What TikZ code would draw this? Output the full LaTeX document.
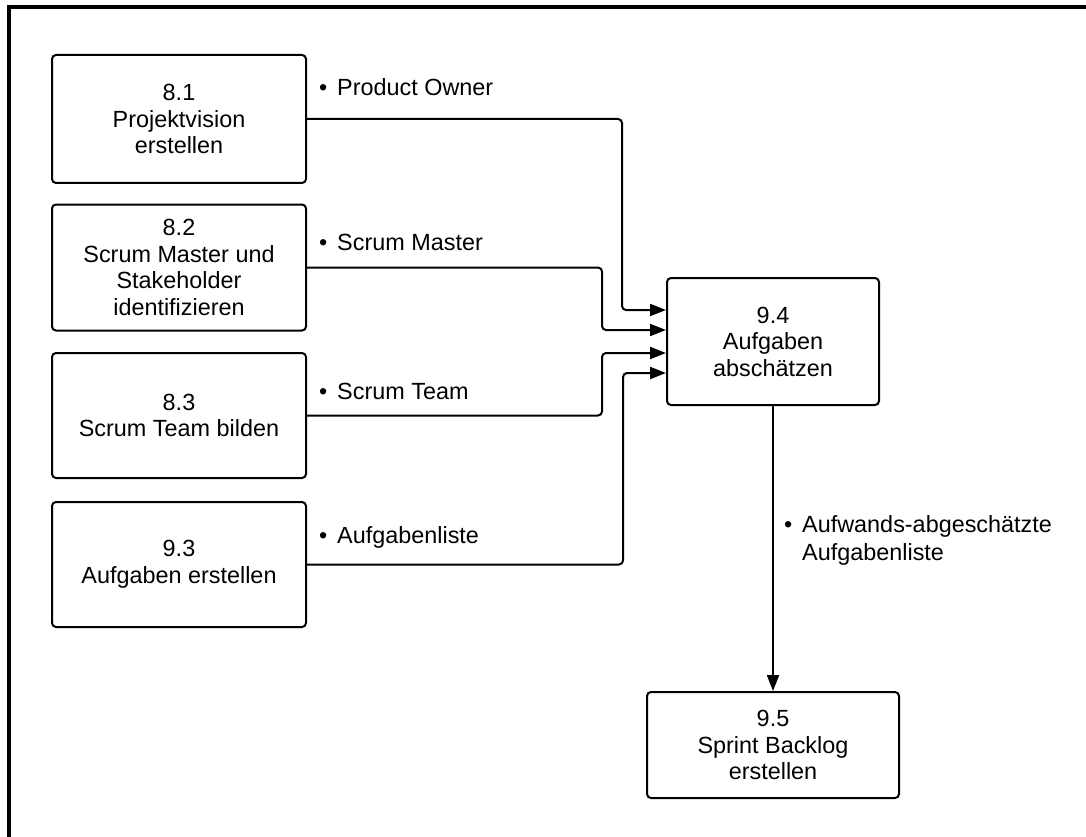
\documentclass[tikz,border=0pt]{standalone}
\usepackage{fontspec}
\setmainfont{Liberation Sans}
\usetikzlibrary{arrows.meta}
\begin{document}
\begin{tikzpicture}[x=1pt,y=-1pt,
  every node/.style={font=\fontsize{23.4}{26.5}\selectfont},
  procbox/.style={draw, line width=2pt, rounded corners=4pt, align=center, inner sep=0pt},
  conn/.style={line width=2pt, rounded corners=4pt, -{Triangle[length=16pt,width=12pt]}},
  flowlabel/.style={anchor=base west, inner sep=0pt}]
  \useasboundingbox (0,0) rectangle (1086,837);
  % outer frame (top and left edges)
  \draw[line width=4pt] (9,837) -- (9,7) -- (1090,7);

  % process boxes
  \node[procbox, minimum width=254pt, minimum height=128pt] (b81) at (179,119) {8.1\\Projektvision\\erstellen};
  \node[procbox, minimum width=254pt, minimum height=126pt] (b82) at (179,267.5) {8.2\\Scrum Master und\\Stakeholder\\identifizieren};
  \node[procbox, minimum width=254pt, minimum height=125pt] (b83) at (179,415.5) {8.3\\Scrum Team bilden};
  \node[procbox, minimum width=254pt, minimum height=125pt] (b93) at (179,564.5) {9.3\\Aufgaben erstellen};
  \node[procbox, minimum width=212pt, minimum height=127pt] (b94) at (773,341.5) {9.4\\Aufgaben\\abschätzen};
  \node[procbox, minimum width=252pt, minimum height=106pt] (b95) at (773,745) {9.5\\Sprint Backlog\\erstellen};

  % inputs into 9.4
  \draw[conn] (b81.east) -| ([xshift=-44pt,yshift=31.5pt]b94.west) -- ([yshift=31.5pt]b94.west);
  \draw[conn] (b82.east) -| ([xshift=-64pt,yshift=11.5pt]b94.west) -- ([yshift=11.5pt]b94.west);
  \draw[conn] (b83.east) -| ([xshift=-64pt,yshift=-11.5pt]b94.west) -- ([yshift=-11.5pt]b94.west);
  \draw[conn] (b93.east) -| ([xshift=-43pt,yshift=-31.5pt]b94.west) -- ([yshift=-31.5pt]b94.west);
  % output of 9.4
  \draw[conn] (b94.south) -- (b95.north);

  % flow labels
  \node[flowlabel] (l1) at (337,96) {\llap{•\hspace{10pt}}Product Owner};
  \node[flowlabel] (l2) at (337,250) {\llap{•\hspace{10pt}}Scrum Master};
  \node[flowlabel] (l3) at (337,399) {\llap{•\hspace{10pt}}Scrum Team};
  \node[flowlabel] (l4) at (337,543) {\llap{•\hspace{10pt}}Aufgabenliste};
  \node[anchor=north west, inner sep=0pt, align=left, font=\fontsize{23.4}{28}\selectfont] (l5) at (802,515) {\llap{•\hspace{10pt}}Aufwands-abgeschätzte\\Aufgabenliste};
\end{tikzpicture}
\end{document}
